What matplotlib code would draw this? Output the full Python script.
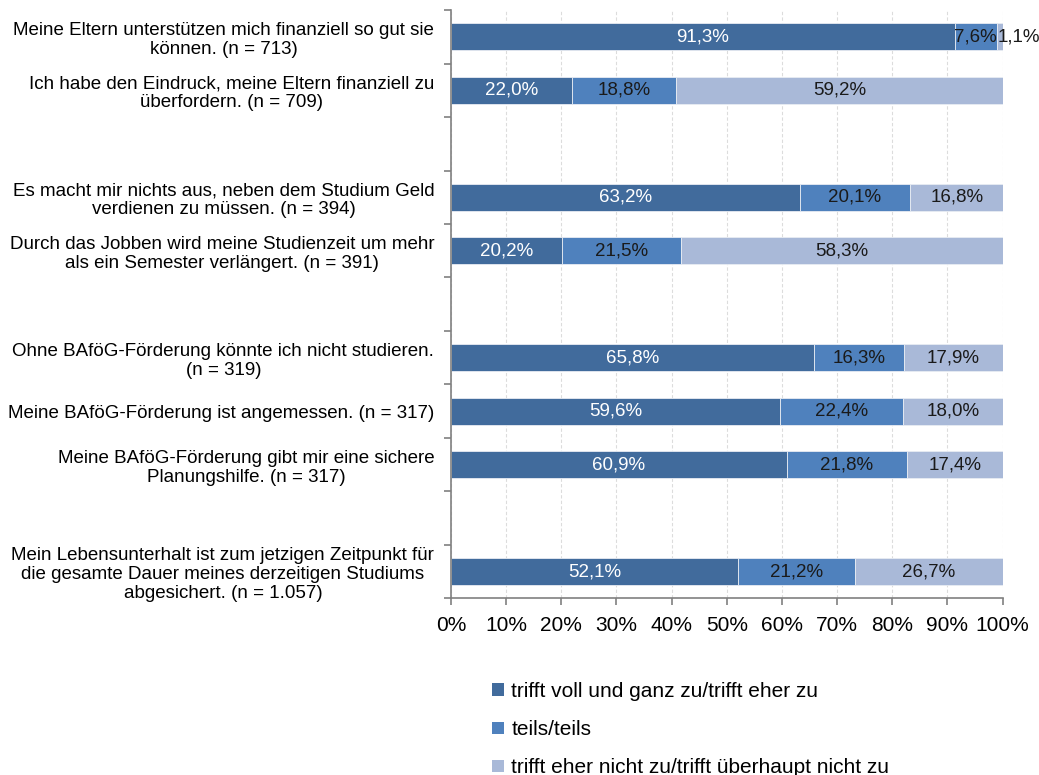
import matplotlib.pyplot as plt
from matplotlib.patches import Patch

plt.rcParams['font.family'] = ['Liberation Sans', 'DejaVu Sans']

statements = [
    "Meine Eltern unterstützen mich finanziell so gut sie\nkönnen. (n = 713)",
    "Ich habe den Eindruck, meine Eltern finanziell zu\nüberfordern. (n = 709)",
    "Es macht mir nichts aus, neben dem Studium Geld\nverdienen zu müssen. (n = 394)",
    "Durch das Jobben wird meine Studienzeit um mehr\nals ein Semester verlängert. (n = 391)",
    "Ohne BAföG-Förderung könnte ich nicht studieren.\n(n = 319)",
    "Meine BAföG-Förderung ist angemessen. (n = 317)",
    "Meine BAföG-Förderung gibt mir eine sichere\nPlanungshilfe. (n = 317)",
    "Mein Lebensunterhalt ist zum jetzigen Zeitpunkt für\ndie gesamte Dauer meines derzeitigen Studiums\nabgesichert. (n = 1.057)",
]
agree = [91.3, 22.0, 63.2, 20.2, 65.8, 59.6, 60.9, 52.1]
neutral = [7.6, 18.8, 20.1, 21.5, 16.3, 22.4, 21.8, 21.2]
disagree = [1.1, 59.2, 16.8, 58.3, 17.9, 18.0, 17.4, 26.7]
group_sizes = [2, 2, 3, 1]

series_names = [
    "trifft voll und ganz zu/trifft eher zu",
    "teils/teils",
    "trifft eher nicht zu/trifft überhaupt nicht zu",
]
colors = ["#416B9C", "#4F81BD", "#A9B9D8"]
text_colors = ["white", "#1a1a1a", "#1a1a1a"]

# rows top to bottom, one blank row between blocks
pos = []
row = 0
for size in group_sizes:
    for k in range(size):
        pos.append(row)
        row += 1
    row += 1
n_rows = row - 1

fig = plt.figure(figsize=(10.39, 7.75), dpi=100)
ax = fig.add_axes([0.434, 0.228, 0.531, 0.759])

left = [0.0] * len(statements)
for values, color, tcolor in zip([agree, neutral, disagree], colors, text_colors):
    ax.barh(pos, values, left=left, height=0.5, color=color,
            edgecolor="#e8ecf3", linewidth=0.6, zorder=2)
    for y, l, v in zip(pos, left, values):
        label = f"{v:.1f}%".replace(".", ",")
        if v >= 3:
            ax.text(l + v / 2, y, label, ha="center", va="center",
                    color=tcolor, fontsize=13.5, zorder=3)
        else:
            # too thin for the text, put it next to the bar end
            ax.text(l + v - 0.9, y, label, ha="left", va="center",
                    color="#1a1a1a", fontsize=13.5, zorder=3)
    left = [a + b for a, b in zip(left, values)]

ax.set_xlim(0, 100)
ax.set_ylim(n_rows - 0.5, -0.5)
ax.set_xticks(range(0, 101, 10))
ax.set_xticklabels([f"{t}%" for t in range(0, 101, 10)], fontsize=15)

ax.set_yticks([i - 0.5 for i in range(n_rows + 1)])
ax.set_yticklabels([])
ax.set_yticks(pos, minor=True)
ax.set_yticklabels(statements, minor=True, fontsize=13.5)
for lab in ax.get_yticklabels(minor=True):
    lab.set_multialignment("center")
    lab.set_linespacing(1.15)
ax.tick_params(axis="y", which="minor", length=0, pad=12)
ax.tick_params(axis="y", which="major", length=5, color="#808080", width=1.2)
ax.tick_params(axis="x", length=5, color="#808080", width=1.2, pad=8)

ax.grid(axis="x", color="#dcdcdc", linestyle=(0, (3, 2)), linewidth=0.8, zorder=0)
ax.set_axisbelow(True)
for side in ["top", "right"]:
    ax.spines[side].set_visible(False)
for side in ["left", "bottom"]:
    ax.spines[side].set_color("#808080")
    ax.spines[side].set_linewidth(1.2)

handles = [Patch(facecolor=c, edgecolor="none") for c in colors]
fig.legend(handles, series_names, loc="upper left", bbox_to_anchor=(0.474, 0.12),
           frameon=False, fontsize=15, handlelength=0.55, handleheight=0.55,
           handletextpad=0.35, labelspacing=0.92, borderpad=0, borderaxespad=0)

fig.savefig("out.png", dpi=100)
